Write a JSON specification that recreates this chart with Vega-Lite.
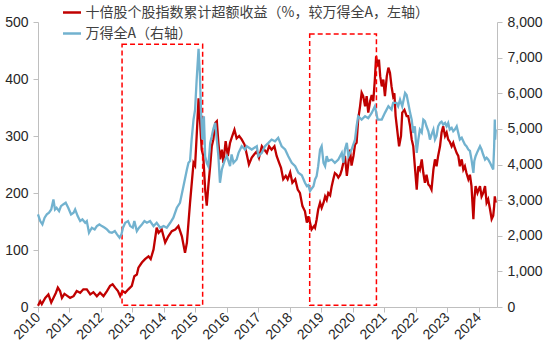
{
  "$schema": "https://vega.github.io/schema/vega-lite/v6.json",
  "width": 459,
  "height": 285,
  "autosize": {"type": "none"},
  "padding": {"left": 38, "top": 22, "right": 53, "bottom": 56},
  "background": "white",
  "config": {
    "view": {"stroke": null},
    "font": "Liberation Sans",
    "axis": {"labelFont": "Liberation Sans", "labelFontSize": 14, "labelColor": "#262626", "domainColor": "#BFBFBF", "tickColor": "#BFBFBF", "tickSize": 5, "grid": false, "title": null, "labelOverlap": false},
    "axisX": {"values": [2010,2011,2012,2013,2014,2015,2016,2017,2018,2019,2020,2021,2022,2023,2024], "format": "d", "labelAngle": -45, "labelAlign": "right", "labelBaseline": "middle", "labelPadding": 3, "labelOverlap": false, "labelBound": false, "labelFlush": false}
  },
  "datasets": {
    "red": [
      {"t":2010.00,"v":2},{"t":2010.07,"v":10},{"t":2010.12,"v":5},{"t":2010.23,"v":16},{"t":2010.33,"v":22},{"t":2010.42,"v":8},{"t":2010.49,"v":16},{"t":2010.57,"v":25},{"t":2010.63,"v":34},{"t":2010.70,"v":28},{"t":2010.76,"v":16},{"t":2010.84,"v":23},{"t":2010.92,"v":20},
      {"t":2011.02,"v":16},{"t":2011.13,"v":19},{"t":2011.23,"v":28},{"t":2011.34,"v":25},{"t":2011.44,"v":31},{"t":2011.55,"v":31},{"t":2011.66,"v":22},{"t":2011.76,"v":26},{"t":2011.87,"v":19},{"t":2011.97,"v":25},
      {"t":2012.08,"v":19},{"t":2012.19,"v":28},{"t":2012.29,"v":37},{"t":2012.37,"v":40},{"t":2012.45,"v":34},{"t":2012.54,"v":28},{"t":2012.61,"v":19},{"t":2012.68,"v":28},{"t":2012.77,"v":25},{"t":2012.87,"v":31},{"t":2012.98,"v":37},
      {"t":2013.06,"v":54},{"t":2013.14,"v":57},{"t":2013.19,"v":69},{"t":2013.30,"v":78},{"t":2013.40,"v":84},{"t":2013.51,"v":89},{"t":2013.58,"v":84},{"t":2013.67,"v":101},{"t":2013.77,"v":139},{"t":2013.83,"v":130},{"t":2013.93,"v":136},
      {"t":2014.04,"v":113},{"t":2014.14,"v":124},{"t":2014.25,"v":133},{"t":2014.36,"v":136},{"t":2014.46,"v":142},{"t":2014.57,"v":124},{"t":2014.67,"v":95},{"t":2014.73,"v":113},{"t":2014.78,"v":148},{"t":2014.83,"v":183},{"t":2014.94,"v":253},{"t":2014.99,"v":248},
      {"t":2015.04,"v":300},{"t":2015.10,"v":366},{"t":2015.15,"v":323},{"t":2015.20,"v":276},{"t":2015.25,"v":265},{"t":2015.31,"v":206},{"t":2015.36,"v":178},{"t":2015.41,"v":212},{"t":2015.47,"v":248},{"t":2015.52,"v":282},{"t":2015.57,"v":294},{"t":2015.63,"v":323},{"t":2015.68,"v":326},{"t":2015.73,"v":288},{"t":2015.78,"v":259},{"t":2015.84,"v":276},{"t":2015.89,"v":253},{"t":2015.96,"v":291},
      {"t":2016.03,"v":265},{"t":2016.10,"v":288},{"t":2016.17,"v":300},{"t":2016.24,"v":311},{"t":2016.31,"v":296},{"t":2016.39,"v":300},{"t":2016.47,"v":294},{"t":2016.56,"v":285},{"t":2016.63,"v":268},{"t":2016.70,"v":250},{"t":2016.79,"v":262},{"t":2016.87,"v":268},{"t":2016.95,"v":273},
      {"t":2017.02,"v":262},{"t":2017.11,"v":282},{"t":2017.19,"v":276},{"t":2017.27,"v":270},{"t":2017.34,"v":282},{"t":2017.42,"v":276},{"t":2017.51,"v":282},{"t":2017.58,"v":265},{"t":2017.66,"v":253},{"t":2017.72,"v":244},{"t":2017.79,"v":224},{"t":2017.87,"v":230},{"t":2017.93,"v":224},
      {"t":2018.01,"v":236},{"t":2018.08,"v":218},{"t":2018.17,"v":224},{"t":2018.25,"v":206},{"t":2018.32,"v":200},{"t":2018.40,"v":177},{"t":2018.48,"v":168},{"t":2018.54,"v":148},{"t":2018.59,"v":159},{"t":2018.64,"v":148},{"t":2018.69,"v":136},{"t":2018.77,"v":142},{"t":2018.80,"v":139},{"t":2018.85,"v":153},{"t":2018.90,"v":171},{"t":2018.96,"v":183},
      {"t":2019.01,"v":174},{"t":2019.07,"v":183},{"t":2019.12,"v":194},{"t":2019.17,"v":188},{"t":2019.22,"v":200},{"t":2019.28,"v":196},{"t":2019.33,"v":212},{"t":2019.38,"v":224},{"t":2019.43,"v":235},{"t":2019.49,"v":232},{"t":2019.54,"v":227},{"t":2019.60,"v":232},{"t":2019.65,"v":241},{"t":2019.70,"v":253},{"t":2019.75,"v":265},{"t":2019.81,"v":230},{"t":2019.86,"v":253},{"t":2019.91,"v":276},{"t":2019.96,"v":248},
      {"t":2020.02,"v":265},{"t":2020.07,"v":285},{"t":2020.12,"v":288},{"t":2020.17,"v":329},{"t":2020.23,"v":352},{"t":2020.28,"v":376},{"t":2020.33,"v":370},{"t":2020.39,"v":352},{"t":2020.44,"v":370},{"t":2020.49,"v":341},{"t":2020.55,"v":361},{"t":2020.60,"v":372},{"t":2020.65,"v":361},{"t":2020.70,"v":399},{"t":2020.74,"v":440},{"t":2020.79,"v":422},{"t":2020.83,"v":434},{"t":2020.87,"v":405},{"t":2020.92,"v":387},{"t":2020.97,"v":399},
      {"t":2021.02,"v":370},{"t":2021.08,"v":405},{"t":2021.13,"v":420},{"t":2021.18,"v":411},{"t":2021.23,"v":387},{"t":2021.28,"v":370},{"t":2021.32,"v":375},{"t":2021.36,"v":335},{"t":2021.42,"v":306},{"t":2021.47,"v":282},{"t":2021.53,"v":300},{"t":2021.57,"v":341},{"t":2021.64,"v":346},{"t":2021.71,"v":335},{"t":2021.76,"v":335},{"t":2021.82,"v":317},{"t":2021.87,"v":294},{"t":2021.92,"v":282},{"t":2021.97,"v":247},
      {"t":2022.03,"v":206},{"t":2022.08,"v":247},{"t":2022.13,"v":241},{"t":2022.19,"v":259},{"t":2022.24,"v":235},{"t":2022.29,"v":218},{"t":2022.34,"v":232},{"t":2022.40,"v":215},{"t":2022.45,"v":212},{"t":2022.50,"v":206},{"t":2022.56,"v":241},{"t":2022.61,"v":259},{"t":2022.66,"v":247},{"t":2022.71,"v":265},{"t":2022.77,"v":282},{"t":2022.82,"v":306},{"t":2022.87,"v":317},{"t":2022.93,"v":300},{"t":2022.98,"v":306},
      {"t":2023.03,"v":294},{"t":2023.08,"v":290},{"t":2023.14,"v":282},{"t":2023.19,"v":288},{"t":2023.24,"v":279},{"t":2023.30,"v":270},{"t":2023.35,"v":265},{"t":2023.40,"v":247},{"t":2023.46,"v":259},{"t":2023.51,"v":241},{"t":2023.56,"v":247},{"t":2023.61,"v":235},{"t":2023.67,"v":224},{"t":2023.72,"v":232},{"t":2023.77,"v":212},{"t":2023.83,"v":154},{"t":2023.86,"v":189},{"t":2023.90,"v":212},{"t":2023.96,"v":200},
      {"t":2024.04,"v":212},{"t":2024.09,"v":194},{"t":2024.14,"v":200},{"t":2024.20,"v":212},{"t":2024.25,"v":183},{"t":2024.30,"v":189},{"t":2024.36,"v":171},{"t":2024.41,"v":154},{"t":2024.46,"v":160},{"t":2024.49,"v":177},{"t":2024.51,"v":194},{"t":2024.54,"v":183}
    ],
    "blue": [
      {"t":2010.00,"v":2598},{"t":2010.07,"v":2411},{"t":2010.14,"v":2318},{"t":2010.21,"v":2506},{"t":2010.28,"v":2599},{"t":2010.35,"v":2646},{"t":2010.42,"v":2739},{"t":2010.49,"v":3019},{"t":2010.54,"v":2739},{"t":2010.59,"v":2786},{"t":2010.67,"v":2692},{"t":2010.73,"v":2831},{"t":2010.80,"v":2879},{"t":2010.88,"v":2926},{"t":2010.96,"v":2786},
      {"t":2011.05,"v":2598},{"t":2011.13,"v":2646},{"t":2011.18,"v":2739},{"t":2011.26,"v":2551},{"t":2011.34,"v":2411},{"t":2011.41,"v":2458},{"t":2011.50,"v":2365},{"t":2011.55,"v":2411},{"t":2011.62,"v":2085},{"t":2011.71,"v":2225},{"t":2011.80,"v":2178},{"t":2011.87,"v":2271},{"t":2011.95,"v":2318},
      {"t":2012.03,"v":2271},{"t":2012.12,"v":2225},{"t":2012.19,"v":2178},{"t":2012.27,"v":2102},{"t":2012.35,"v":2085},{"t":2012.44,"v":2131},{"t":2012.51,"v":2038},{"t":2012.59,"v":1945},{"t":2012.65,"v":2038},{"t":2012.70,"v":2225},{"t":2012.77,"v":2365},{"t":2012.86,"v":2411},{"t":2012.93,"v":2271},
      {"t":2013.01,"v":2225},{"t":2013.06,"v":2411},{"t":2013.14,"v":2131},{"t":2013.21,"v":2225},{"t":2013.30,"v":2318},{"t":2013.38,"v":2411},{"t":2013.46,"v":2364},{"t":2013.56,"v":2411},{"t":2013.67,"v":2271},{"t":2013.77,"v":2364},{"t":2013.88,"v":2225},{"t":2013.99,"v":2271},
      {"t":2014.09,"v":2225},{"t":2014.20,"v":2364},{"t":2014.30,"v":2506},{"t":2014.41,"v":2786},{"t":2014.51,"v":2926},{"t":2014.62,"v":3392},{"t":2014.73,"v":3860},{"t":2014.78,"v":4047},{"t":2014.83,"v":4100},{"t":2014.88,"v":4700},{"t":2014.94,"v":5261},{"t":2014.99,"v":5541},
      {"t":2015.04,"v":6382},{"t":2015.10,"v":7250},{"t":2015.14,"v":6570},{"t":2015.18,"v":5449},{"t":2015.22,"v":4700},{"t":2015.27,"v":5354},{"t":2015.31,"v":4233},{"t":2015.36,"v":4047},{"t":2015.41,"v":3950},{"t":2015.47,"v":4608},{"t":2015.52,"v":4793},{"t":2015.57,"v":5000},{"t":2015.63,"v":5168},{"t":2015.68,"v":4700},{"t":2015.73,"v":4233},{"t":2015.78,"v":3487},{"t":2015.84,"v":3860},{"t":2015.94,"v":4140},
      {"t":2016.00,"v":4233},{"t":2016.10,"v":3952},{"t":2016.15,"v":4280},{"t":2016.21,"v":4047},{"t":2016.31,"v":4140},{"t":2016.37,"v":4327},{"t":2016.47,"v":4513},{"t":2016.58,"v":4420},{"t":2016.63,"v":4513},{"t":2016.79,"v":4420},{"t":2016.95,"v":4513},
      {"t":2017.00,"v":4233},{"t":2017.11,"v":4327},{"t":2017.21,"v":4513},{"t":2017.32,"v":4608},{"t":2017.42,"v":4700},{"t":2017.53,"v":4650},{"t":2017.63,"v":4748},{"t":2017.74,"v":4513},{"t":2017.85,"v":4420},{"t":2017.95,"v":4233},
      {"t":2018.06,"v":4047},{"t":2018.17,"v":3953},{"t":2018.27,"v":3767},{"t":2018.38,"v":3700},{"t":2018.48,"v":3487},{"t":2018.54,"v":3392},{"t":2018.59,"v":3420},{"t":2018.64,"v":3250},{"t":2018.69,"v":3320},{"t":2018.75,"v":3392},{"t":2018.80,"v":3580},{"t":2018.85,"v":3672},{"t":2018.90,"v":3952},{"t":2018.96,"v":4420},
      {"t":2019.01,"v":4513},{"t":2019.07,"v":4047},{"t":2019.12,"v":3952},{"t":2019.17,"v":4233},{"t":2019.22,"v":4100},{"t":2019.33,"v":4140},{"t":2019.43,"v":4047},{"t":2019.54,"v":4140},{"t":2019.65,"v":4327},{"t":2019.70,"v":4050},{"t":2019.75,"v":4420},{"t":2019.81,"v":4608},{"t":2019.86,"v":4233},{"t":2019.96,"v":4420},
      {"t":2020.07,"v":4700},{"t":2020.12,"v":5073},{"t":2020.17,"v":5354},{"t":2020.28,"v":5261},{"t":2020.39,"v":5354},{"t":2020.49,"v":5300},{"t":2020.60,"v":5449},{"t":2020.70,"v":5634},{"t":2020.79,"v":5261},{"t":2020.92,"v":5261},
      {"t":2021.02,"v":5449},{"t":2021.13,"v":5634},{"t":2021.23,"v":5541},{"t":2021.28,"v":5729},{"t":2021.39,"v":5729},{"t":2021.44,"v":5634},{"t":2021.50,"v":5822},{"t":2021.57,"v":5634},{"t":2021.66,"v":6009},{"t":2021.71,"v":5950},{"t":2021.76,"v":5729},{"t":2021.82,"v":5449},{"t":2021.87,"v":5261},{"t":2021.92,"v":4888},{"t":2021.97,"v":5073},
      {"t":2022.03,"v":4327},{"t":2022.08,"v":4700},{"t":2022.13,"v":4981},{"t":2022.19,"v":4900},{"t":2022.24,"v":5261},{"t":2022.29,"v":5220},{"t":2022.34,"v":5073},{"t":2022.40,"v":4934},{"t":2022.45,"v":4700},{"t":2022.50,"v":4841},{"t":2022.56,"v":4981},{"t":2022.61,"v":4700},{"t":2022.66,"v":4800},{"t":2022.71,"v":5073},{"t":2022.77,"v":5168},{"t":2022.82,"v":5200},{"t":2022.87,"v":5120},{"t":2022.93,"v":5168},{"t":2022.98,"v":5073},
      {"t":2023.03,"v":5168},{"t":2023.08,"v":4981},{"t":2023.14,"v":5030},{"t":2023.19,"v":4934},{"t":2023.24,"v":4981},{"t":2023.30,"v":5073},{"t":2023.35,"v":4888},{"t":2023.40,"v":4700},{"t":2023.46,"v":4750},{"t":2023.51,"v":4653},{"t":2023.56,"v":4560},{"t":2023.61,"v":4513},{"t":2023.67,"v":4420},{"t":2023.72,"v":4380},{"t":2023.77,"v":4140},{"t":2023.83,"v":3767},{"t":2023.86,"v":4100},{"t":2023.90,"v":4233},{"t":2023.96,"v":4360},
      {"t":2024.04,"v":4513},{"t":2024.09,"v":4420},{"t":2024.14,"v":4280},{"t":2024.20,"v":4140},{"t":2024.25,"v":4190},{"t":2024.30,"v":4140},{"t":2024.36,"v":4047},{"t":2024.41,"v":3952},{"t":2024.46,"v":3860},{"t":2024.49,"v":4513},{"t":2024.51,"v":5261},{"t":2024.52,"v":4700},{"t":2024.54,"v":4981}
    ],
    "boxes": [
      {"t1": 2012.67, "t2": 2015.23, "v1": 3, "v2": 461},
      {"t1": 2018.63, "t2": 2020.75, "v1": 3, "v2": 479}
    ]
  },
  "layer": [
    {
      "data": {"name": "red"},
      "mark": {"type": "line", "strokeWidth": 2.3},
      "encoding": {
        "x": {"field": "t", "type": "quantitative", "scale": {"domain": [2010, 2024.58], "nice": false, "zero": false},
              "axis": {"values": [2010,2011,2012,2013,2014,2015,2016,2017,2018,2019,2020,2021,2022,2023,2024], "tickCount": 15, "format": "d", "labelAngle": -45, "labelAlign": "right", "labelBaseline": "middle", "labelPadding": 3, "labelOverlap": false}},
        "y": {"field": "v", "type": "quantitative", "scale": {"domain": [0, 500], "nice": false},
              "axis": {"orient": "left", "values": [0,100,200,300,400,500], "format": "d", "labelPadding": 5}},
        "color": {"datum": "十倍股个股指数累计超额收益（%，较万得全A，左轴）", "type": "nominal",
                  "scale": {"domain": ["十倍股个股指数累计超额收益（%，较万得全A，左轴）", "万得全A（右轴）"], "range": ["#C00000", "#72B2CF"]},
                  "legend": {"orient": "none", "legendX": 23.5, "legendY": -20, "title": null, "symbolType": "stroke", "symbolSize": 324, "symbolStrokeWidth": 2.5, "labelFont": "Noto Sans CJK SC", "labelFontSize": 14, "labelColor": "#404040", "labelLimit": 600, "labelOffset": 3, "rowPadding": 3, "padding": 0}}
      }
    },
    {
      "data": {"name": "boxes"},
      "mark": {"type": "rect", "filled": false, "stroke": "#FF0000", "strokeWidth": 1.5, "strokeDash": [5, 3]},
      "encoding": {
        "x": {"field": "t1", "type": "quantitative",
              "axis": {"values": [2010,2011,2012,2013,2014,2015,2016,2017,2018,2019,2020,2021,2022,2023,2024], "tickCount": 15, "format": "d", "labelAngle": -45, "labelAlign": "right", "labelBaseline": "middle", "labelPadding": 3, "labelOverlap": false}},
        "x2": {"field": "t2"},
        "y": {"field": "v1", "type": "quantitative", "scale": {"domain": [0, 500], "nice": false}, "axis": null},
        "y2": {"field": "v2"}
      }
    },
    {
      "data": {"name": "blue"},
      "mark": {"type": "line", "strokeWidth": 2.3},
      "encoding": {
        "x": {"field": "t", "type": "quantitative",
              "axis": {"values": [2010,2011,2012,2013,2014,2015,2016,2017,2018,2019,2020,2021,2022,2023,2024], "tickCount": 15, "format": "d", "labelAngle": -45, "labelAlign": "right", "labelBaseline": "middle", "labelPadding": 3, "labelOverlap": false}},
        "y": {"field": "v", "type": "quantitative", "scale": {"domain": [0, 8000], "nice": false},
              "axis": {"orient": "right", "values": [0,1000,2000,3000,4000,5000,6000,7000,8000], "format": ",d", "labelPadding": 5}},
        "color": {"datum": "万得全A（右轴）", "type": "nominal"}
      }
    }
  ],
  "resolve": {"scale": {"y": "independent"}}
}
